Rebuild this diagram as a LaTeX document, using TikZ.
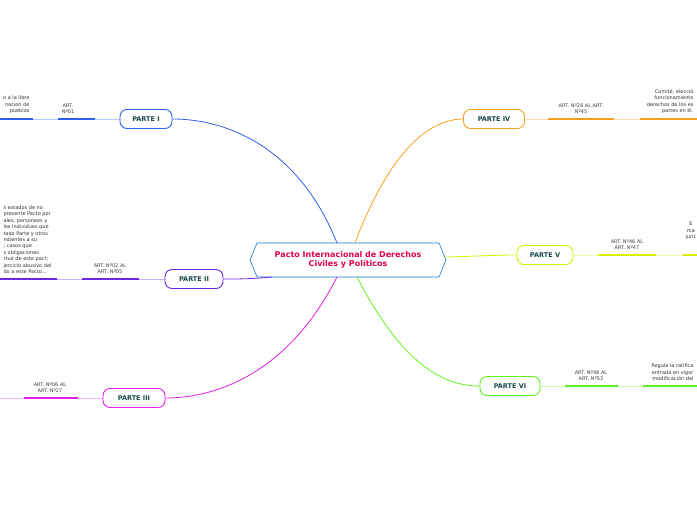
\documentclass[tikz,border=0pt]{standalone}
\usepackage{fontspec}
\setmainfont{DejaVu Sans}
\begin{document}
\begin{tikzpicture}[x=1pt,y=-1pt,
  part/.style={draw,line width=0.9pt,rounded corners=7pt,fill=white,minimum width=52pt,minimum height=19pt,font=\fontsize{6.5}{7}\selectfont\bfseries,text=teal!40!black!90},
  art/.style={font=\fontsize{5}{5.6}\selectfont,text=black!75,align=center},
  txt/.style={font=\fontsize{5}{6.4}\selectfont,text=black!80},
  br/.style={line width=0.8pt},
  lt/.style={line width=0.6pt,opacity=0.35},
  dk/.style={line width=1.2pt}]
\useasboundingbox (0,0) rectangle (697,520);
\definecolor{cI}{HTML}{2F5FE8}\definecolor{cII}{HTML}{6A2BE0}\definecolor{cIII}{HTML}{E020E8}
\definecolor{cIV}{HTML}{F5A020}\definecolor{cV}{HTML}{D8F000}\definecolor{cVI}{HTML}{60F020}
\definecolor{ttl}{HTML}{E0004C}
% center
\draw[cyan!60!blue,line width=0.6pt,fill=white] (257,243)--(439,243)--(446,260)--(439,277)--(257,277)--(250,260)--cycle;
\node[font=\fontsize{8}{9.5}\selectfont\bfseries,text=ttl,align=center] (c) at (348,260) {Pacto Internacional de Derechos\\Civiles y Políticos};
% nodes
\node[part,draw=cI,minimum width=52pt] (p1) at (146,119) {PARTE I};
\node[part,draw=cII,minimum width=58pt] (p2) at (194,279) {PARTE II};
\node[part,draw=cIII,minimum width=62pt] (p3) at (134,398) {PARTE III};
\node[part,draw=cIV,minimum width=61pt] (p4) at (494,119) {PARTE IV};
\node[part,draw=cV,minimum width=56pt] (p5) at (545,255) {PARTE V};
\node[part,draw=cVI,minimum width=60pt] (p6) at (510,386) {PARTE VI};
% branches
\draw[br,cI] (337,243) .. controls (300,150) and (230,119) .. (p1.east);
\draw[br,cII] (272,277) .. controls (250,279) and (240,279) .. (p2.east);
\draw[br,cIII] (337,277) .. controls (290,370) and (220,398) .. (p3.east);
\draw[br,cIV] (355,243) .. controls (390,150) and (430,119) .. (p4.west);
\draw[br,cV] (446,257) .. controls (480,256) and (500,255) .. (p5.west);
\draw[br,cVI] (357,277) .. controls (400,360) and (440,386) .. (p6.west);
% subbranch lines
\draw[lt,cI] (p1.west)--(0,119); \draw[dk,cI] (58,119)--(95,119) (0,119)--(33,119);
\draw[lt,cII] (p2.west)--(0,279); \draw[dk,cII] (82,279)--(139,279) (0,279)--(57,279);
\draw[lt,cIII] (p3.west)--(0,398); \draw[dk,cIII] (24,398)--(78,398);
\draw[lt,cIV] (p4.east)--(697,119); \draw[dk,cIV] (548,119)--(614,119) (640,119)--(697,119);
\draw[lt,cV] (p5.east)--(697,255); \draw[dk,cV] (598,255)--(656,255) (683,255)--(697,255);
\draw[lt,cVI] (p6.east)--(697,386); \draw[dk,cVI] (565,386)--(618,386) (643,386)--(697,386);
% art labels
\node[art,anchor=south] (a1) at (68,117) {ART.\\Nº01};
\node[art,anchor=south] (a2) at (110,277) {ART. Nº02 AL\\ART. Nº05};
\node[art,anchor=south] (a3) at (50,396) {ART. Nº06 AL\\ART. Nº27};
\node[art,anchor=south] (a4) at (581,117) {ART. Nº28 AL ART.\\Nº45};
\node[art,anchor=south] (a5) at (627,253) {ART. Nº46 AL\\ART. Nº47};
\node[art,anchor=south] (a6) at (591,384) {ART. Nº48 AL\\ART. Nº53};
% texts
\node[txt,anchor=south east,align=right] (t1) at (33,117) {o a la libre\\nacion de\\pueblos};
\node[txt,anchor=south west,align=left] (t2) at (0,277) {s estados de no\\presente Pacto por\\ales, personaes y\\los individuos que\\tado Parte y otros\\ndientes a su\\; casos que\\s obligaciones\\rtud de este pact;\\jercicio abusivo del\\do a este Pacto...};
\node[txt,anchor=south east,align=right] (t4) at (697,117) {Comité, elecció\\funcionamiento\\derechos de los es\\partes en él.};
\node[txt,anchor=south west,align=center] (t5) at (682,243) {E\\ma\\juric};
\node[txt,anchor=south east,align=right] (t6) at (697,384) {Regula la ratifica\\entrada en vigor\\modificación del};
\end{tikzpicture}
\end{document}
